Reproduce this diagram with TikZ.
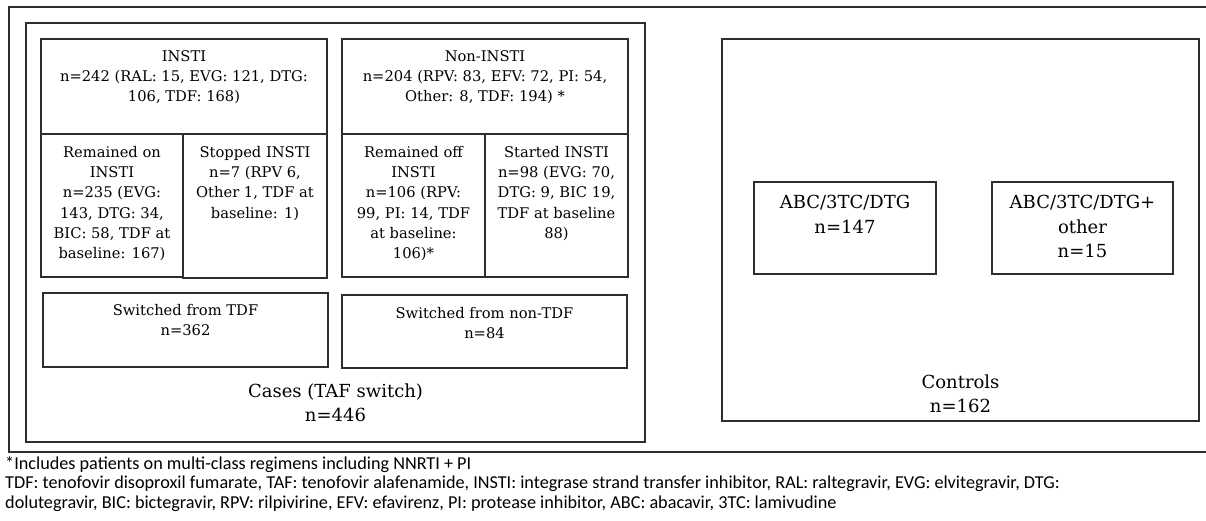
\documentclass[tikz,border=0pt]{standalone}
\usepackage{fontspec}
\setmainfont{DejaVu Serif}
\newfontfamily\notefont{Carlito}
\usepackage{tikz}
\usetikzlibrary{positioning,calc}

\tikzset{
  box/.style={draw=black!82,line width=1.6pt,anchor=north west,inner sep=0pt,outer sep=0pt},
  txt/.style={align=center,inner sep=0pt,font=\fontsize{14.7}{20.3}\selectfont},
  bigtxt/.style={align=center,inner sep=0pt,font=\fontsize{18}{24.5}\selectfont}
}

\begin{document}
\begin{tikzpicture}[x=1pt,y=-1pt]
      \useasboundingbox (0,0) rectangle (1206,520);
      % outer frame, its right side is cut off
      \draw[black!82,line width=1.6pt] (1210,7) -- (9,7) -- (9,452) -- (1210,452);
      % cases
      \node[box,minimum width=619pt,minimum height=419pt] (cases) at (26,23) {};
      \node[box,minimum width=286pt,minimum height=95pt] (insti) at (41,39) {};
      \node[box,minimum width=142pt,minimum height=143pt] (remon) at (41,134) {};
      \node[box,minimum width=144pt,minimum height=144pt] (stopped) at (183,134) {};
      \node[box,minimum width=286pt,minimum height=95pt] (noninsti) at (342,39) {};
      \node[box,minimum width=143pt,minimum height=143pt] (remoff) at (342,134) {};
      \node[box,minimum width=143pt,minimum height=143pt] (started) at (485,134) {};
      \node[box,minimum width=285pt,minimum height=74pt] (swtdf) at (43,293) {};
      \node[box,minimum width=285pt,minimum height=73pt] (swnon) at (342,295) {};
      \node[txt,below=11pt of insti.north] (insti-t) {INSTI\\n=242 (RAL: 15, EVG: 121, DTG:\\106, TDF: 168)};
      \node[txt,below=11pt of noninsti.north] (noninsti-t) {Non-INSTI\\n=204 (RPV: 83, EFV: 72, PI: 54,\\Other: 8, TDF: 194) *};
      \node[txt,below=12pt of remon.north] (remon-t) {Remained on\\INSTI\\n=235 (EVG:\\143, DTG: 34,\\BIC: 58, TDF at\\baseline: 167)};
      \node[txt,below=12pt of stopped.north] (stopped-t) {Stopped INSTI\\n=7 (RPV 6,\\Other 1, TDF at\\baseline: 1)};
      \node[txt,below=12pt of remoff.north] (remoff-t) {Remained off\\INSTI\\n=106 (RPV:\\99, PI: 14, TDF\\at baseline:\\106)*};
      \node[txt,below=12pt of started.north] (started-t) {Started INSTI\\n=98 (EVG: 70,\\DTG: 9, BIC 19,\\TDF at baseline\\88)};
      \node[txt,below=11pt of swtdf.north] (swtdf-t) {Switched from TDF\\n=362};
      \node[txt,below=12pt of swnon.north] (swnon-t) {Switched from non-TDF\\n=84};
      \node[bigtxt,above=20pt of cases.south] (cases-t) {Cases (TAF switch)\\n=446};
      % controls
      \node[box,minimum width=477pt,minimum height=382pt] (controls) at (722,39) {};
      \node[box,minimum width=182pt,minimum height=92pt] (abc) at (754,182) {};
      \node[box,minimum width=181pt,minimum height=92pt] (abcplus) at (992,182) {};
      \node[bigtxt,below=13pt of abc.north] (abc-t) {ABC/3TC/DTG\\n=147};
      \node[bigtxt,below=13pt of abcplus.north] (abcplus-t) {ABC/3TC/DTG+\\other\\n=15};
      \node[bigtxt,above=8pt of controls.south] (controls-t) {Controls\\n=162};
      % footnote
      \node[anchor=north west,align=left,inner sep=0pt,font=\notefont\fontsize{18.2}{19.5}\selectfont] (note) at (5,456)
        {*Includes patients on multi-class regimens including NNRTI + PI\\
         TDF: tenofovir disoproxil fumarate, TAF: tenofovir alafenamide, INSTI: integrase strand transfer inhibitor, RAL: raltegravir, EVG: elvitegravir, DTG:\\
         dolutegravir, BIC: bictegravir, RPV: rilpivirine, EFV: efavirenz, PI: protease inhibitor, ABC: abacavir, 3TC: lamivudine};
    \end{tikzpicture}
\end{document}
